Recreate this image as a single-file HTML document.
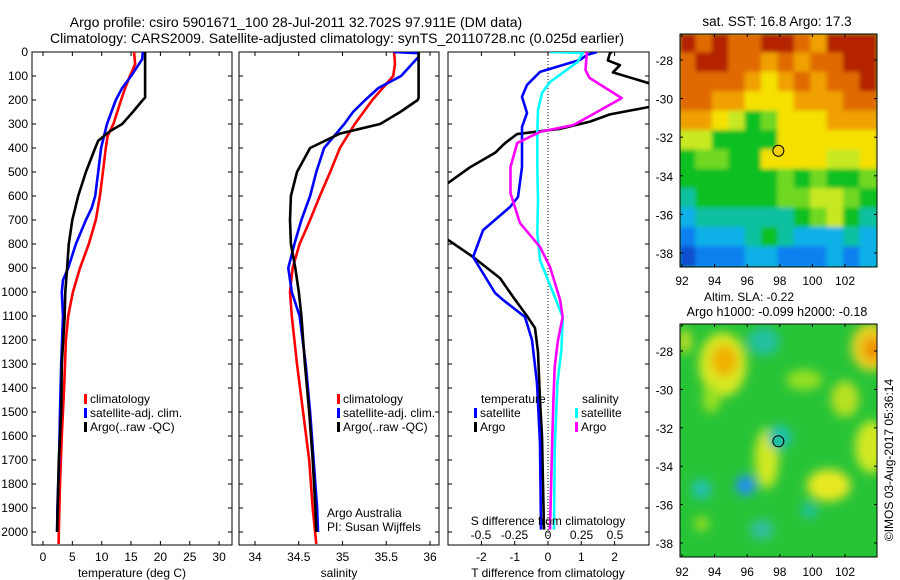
<!DOCTYPE html>
<html><head><meta charset="utf-8"><style>
html,body{margin:0;padding:0;background:#fff;}
svg{display:block;font-family:"Liberation Sans",sans-serif;font-size:12px;}
</style></head><body>
<svg id="c" width="900" height="580" viewBox="0 0 900 580">
<text x="296" y="27" text-anchor="middle" font-size="14">Argo profile: csiro 5901671_100 28-Jul-2011 32.702S 97.911E (DM data)</text>
<text x="337" y="43" text-anchor="middle" font-size="14">Climatology: CARS2009. Satellite-adjusted climatology: synTS_20110728.nc (0.025d earlier)</text>
</svg>
<script>
// ---- data ----
const tempDepth=[0,50,100,150,200,300,350,400,500,600,700,800,900,1000,1100,1200,1400,1600,1800,2000,2050];
const tempClim=[15.5,15.7,14.8,14.0,13.3,12.0,11.0,10.7,10.2,9.7,9.0,7.8,6.3,5.1,4.3,3.9,3.6,3.2,2.9,2.7,2.65];
const tempSatDepth=[0,30,100,150,200,300,350,400,500,600,650,700,800,900,950,1000,1100,1300,1500,1700,1900,2000];
const tempSat=[17.0,16.9,15.0,13.5,12.4,10.9,10.4,9.9,9.4,8.9,8.3,7.3,5.6,4.3,3.4,3.2,3.4,3.1,2.9,2.75,2.45,2.4];
const tempArgoDepth=[0,190,200,250,300,330,370,400,500,600,700,800,900,1000,1100,1300,1500,1700,2000];
const tempArgo=[17.4,17.4,17.0,15.3,13.5,11.4,9.4,8.9,7.3,6.0,5.0,4.4,4.1,3.8,3.7,3.2,3.1,2.7,2.4];

const salDepth=[0,50,100,150,200,300,400,500,600,700,800,900,1000,1100,1300,1500,1700,1900,2050];
const salClim=[35.59,35.6,35.58,35.46,35.34,35.14,34.97,34.86,34.74,34.63,34.51,34.43,34.40,34.42,34.48,34.55,34.62,34.66,34.70];
const salSatDepth=[0,5,20,100,150,200,250,300,400,500,600,700,800,900,1000,1100,1300,1500,1700,1900,2000];
const salSat=[35.58,35.87,35.87,35.67,35.41,35.26,35.12,35.02,34.79,34.70,34.63,34.53,34.45,34.38,34.42,34.51,34.58,34.63,34.67,34.71,34.72];
const salArgoDepth=[0,190,200,250,300,320,340,400,500,600,700,800,900,1000,1100,1300,1500,1700,1900,2000];
const salArgo=[35.87,35.87,35.86,35.66,35.43,35.20,34.97,34.63,34.48,34.41,34.40,34.41,34.46,34.50,34.53,34.57,34.62,34.66,34.69,34.70];

const dTArgoDepth=[0,5,35,55,85,130,180,229,260,290,320,342,380,420,480,546,650,783,854,942,1020,1100,1150,1250,1450,1600,1800,1990];
const dTArgo=[1.92,1.86,1.80,2.16,1.95,3.03,4.5,3.03,1.86,1.26,0.36,-0.93,-1.29,-1.59,-2.34,-3.0,-4.0,-3.0,-2.25,-1.44,-1.05,-0.63,-0.39,-0.30,-0.24,-0.18,-0.15,-0.12];
const dTSatDepth=[0,12,33,83,137,187,254,312,479,604,646,742,854,1004,1033,1104,1200,1380,1630,1990];
const dTSat=[1.47,1.17,0.96,-0.24,-0.63,-0.78,-0.63,-0.78,-0.78,-0.90,-1.14,-1.95,-2.25,-1.59,-1.35,-0.69,-0.48,-0.33,-0.24,-0.21];
const dSSatDepth=[0,4,42,125,171,242,337,479,617,754,867,950,1104,1242,1380,1658,1990];
const dSSat=[0.015,0.26,0.22,0.015,-0.045,-0.075,-0.08,-0.08,-0.075,-0.08,-0.06,0.0,0.11,0.10,0.07,0.05,0.045];
const dSArgoDepth=[0,75,108,192,242,283,304,333,379,479,588,712,812,896,1033,1104,1200,1312,1450,1658,1990];
const dSArgo=[0.29,0.28,0.31,0.55,0.39,0.26,0.19,-0.06,-0.23,-0.28,-0.28,-0.21,-0.06,0.015,0.09,0.11,0.075,0.05,0.04,0.03,0.015];

const depthTicks=[0,100,200,300,400,500,600,700,800,900,1000,1100,1200,1300,1400,1500,1600,1700,1800,1900,2000];
const tempTicks=[0,5,10,15,20,25,30];
const salTicks=[34,34.5,35,35.5,36];
const salTickLabels=["34","34.5","35","35.5","36"];
const dTTicks=[-2,-1,0,1,2];
const dSTicks=[-0.5,-0.25,0,0.25,0.5];
const dSTickLabels=["-0.5","-0.25","0","0.25","0.5"];
const lonTicks=[92,94,96,98,100,102];
const latTicks=[-28,-30,-32,-34,-36,-38];

// ---- scales ----
const yD=d=>52+d*0.24;
const xT=t=>43+t*5.87;
const xS=s=>255+(s-34)*87.5;
const xDT=v=>548+v*33.3;
const xDS=v=>548+v*134;
const lonX=l=>682+(l-92)*16.3;
const lat1Y=l=>60+(-28-l)*19.3;
const lat2Y=l=>351+(-28-l)*19.2;

const svg=document.getElementById('c');
const NS='http://www.w3.org/2000/svg';
function mk(tag,attrs,parent){const e=document.createElementNS(NS,tag);for(const k in attrs)e.setAttribute(k,attrs[k]);(parent||svg).appendChild(e);return e;}
function txt(x,y,s,anchor,parent){const e=mk('text',{x:x,y:y,'text-anchor':anchor||'start'},parent);e.textContent=s;return e;}

const defs=mk('defs',{});
[[32,52,200,493,'cp1'],[239,52,200,493,'cp2'],[448,52,201,493,'cp3'],[680,34,197,233,'cm1'],[680,324,197,233,'cm2']].forEach(a=>{
  const cp=mk('clipPath',{id:a[4]},defs);mk('rect',{x:a[0],y:a[1],width:a[2],height:a[3]},cp);
});
const bl=mk('filter',{id:'blur',x:'-10%',y:'-10%',width:'120%',height:'120%'},defs);
mk('feGaussianBlur',{stdDeviation:'2'},bl);
const bl2=mk('filter',{id:'blur2',x:'-50%',y:'-50%',width:'200%',height:'200%'},defs);
mk('feGaussianBlur',{stdDeviation:'5'},bl2);

function panelFrame(x0,w,name){
  const r=mk('rect',{x:x0,y:52,width:w,height:493,fill:'none',stroke:'#000','stroke-width':1});
  
  
  depthTicks.forEach(d=>{
    mk('line',{x1:x0,x2:x0+4,y1:yD(d),y2:yD(d),stroke:'#000'});
    mk('line',{x1:x0+w-4,x2:x0+w,y1:yD(d),y2:yD(d),stroke:'#000'});
  });
}
function xTicks(vals,sc){vals.forEach(v=>{const x=sc(v);mk('line',{x1:x,x2:x,y1:52,y2:56,stroke:'#000'});mk('line',{x1:x,x2:x,y1:541,y2:545,stroke:'#000'});});}
function series(depths,vals,xs,color,clip,name){
  let p='';depths.forEach((d,i)=>{p+=(i?'L':'M')+xs(vals[i]).toFixed(1)+' '+yD(d).toFixed(1);});
  const e=mk('path',{d:p,fill:'none',stroke:color,'stroke-width':2.6,'stroke-linejoin':'round','clip-path':'url(#'+clip+')'});
  
  
}
function legend(x,y,color,label,name){
  mk('rect',{x:x,y:y-9,width:3,height:10,fill:color});
  const t=txt(x+6,y,label);
  
  
}

// Panel 1
panelFrame(32,200,'temperature-panel');
xTicks(tempTicks,xT);
depthTicks.forEach(d=>{const t=txt(28,yD(d)+4,String(d),'end');});
tempTicks.forEach(v=>{const t=txt(xT(v),561,String(v),'middle');});
{const t=txt(132,577,'temperature (deg C)','middle');}
series(tempDepth,tempClim,xT,'#f00','cp1','temp-climatology-line');
series(tempSatDepth,tempSat,xT,'#00f','cp1','temp-satellite-line');
series(tempArgoDepth,tempArgo,xT,'#000','cp1','temp-argo-line');
legend(84,403,'#f00','climatology','legend-climatology');
legend(84,417,'#00f','satellite-adj. clim.','legend-satellite');
legend(84,431,'#000','Argo(..raw -QC)','legend-argo');

// Panel 2
panelFrame(239,200,'salinity-panel');
xTicks(salTicks,xS);
salTicks.forEach((v,i)=>{const t=txt(xS(v),561,salTickLabels[i],'middle');});
{const t=txt(339,577,'salinity','middle');}
series(salDepth,salClim,xS,'#f00','cp2','sal-climatology-line');
series(salSatDepth,salSat,xS,'#00f','cp2','sal-satellite-line');
series(salArgoDepth,salArgo,xS,'#000','cp2','sal-argo-line');
legend(337,403,'#f00','climatology','legend-climatology-2');
legend(337,417,'#00f','satellite-adj. clim.','legend-satellite-2');
legend(337,431,'#000','Argo(..raw -QC)','legend-argo-2');
{const t=txt(327,517,'Argo Australia');}
{const t=txt(327,531,'PI: Susan Wijffels');}

// Panel 3
panelFrame(448,201,'difference-panel');
xTicks(dTTicks,xDT);
mk('line',{x1:548,x2:548,y1:52,y2:545,stroke:'#000','stroke-dasharray':'1,2'});
dTTicks.forEach(v=>{const t=txt(xDT(v),561,String(v),'middle');});
dSTicks.forEach((v,i)=>{const t=txt(xDS(v),539,dSTickLabels[i],'middle');});
{const t=txt(548,577,'T difference from climatology','middle');}
series(dTArgoDepth,dTArgo,xDT,'#000','cp3','dT-argo-line');
series(dTSatDepth,dTSat,xDT,'#00f','cp3','dT-satellite-line');
series(dSSatDepth,dSSat,xDS,'#0ff','cp3','dS-satellite-line');
series(dSArgoDepth,dSArgo,xDS,'#f0f','cp3','dS-argo-line');
{const t=txt(548,525,'S difference from climatology','middle');}
{const t=txt(481,403,'temperature');}
{const t=txt(582,403,'salinity');}
legend(474,417,'#00f','satellite','legend-t-satellite');
legend(474,431,'#000','Argo','legend-t-argo');
legend(575,417,'#0ff','satellite','legend-s-satellite');
legend(575,431,'#f0f','Argo','legend-s-argo');

// Map 1: SST
const pal={R:'#b42200',O:'#e06a00',o:'#f0a000',Y:'#f5e000',y:'#c8e820',g:'#70d820',G:'#10c020',T:'#10c0a0',C:'#10b0e8',B:'#1080f0',D:'#1050d0'};
const sstGrid=["ROROORROoRRR","ORROOoOoOORR","OOOOoYoOoOOR","OOooYYYoooOO","ooYyGgYYYooo","yyGGGGYYYYYY","GggGGYYYYyyY","GGGGGGgGgGGg","TGGGGGggyygG","CTTTTTTGgyGT","BCCCTGTCCCTC","DBBBCCBBBCBC"];
const m1=mk('g',{'clip-path':'url(#cm1)'});


const m1b=mk('g',{filter:'url(#blur)'},m1);
mk('rect',{x:670,y:24,width:217,height:253,fill:'#10c020'},m1b);
sstGrid.forEach((row,r)=>{[...row].forEach((ch,c)=>{mk('rect',{x:680+c*16.4-1,y:34+r*19.4-1,width:18.5,height:21.5,fill:pal[ch]},m1b);});});
mk('rect',{x:680,y:34,width:197,height:233,fill:'none',stroke:'#000'});
mk('circle',{cx:lonX(97.911),cy:lat1Y(-32.702),r:5.5,fill:'#f0d000',stroke:'#000'});
// Map 2: SLA
const m2=mk('g',{'clip-path':'url(#cm2)'});


mk('rect',{x:680,y:324,width:197,height:233,fill:'#28c438'},m2);
const m2b=mk('g',{filter:'url(#blur2)'},m2);
[[94.5,-28.7,24,32,'#d8e820'],[94.6,-28.5,13,16,'#f0b000'],[103.6,-27.8,20,24,'#e8d020'],[103.7,-27.9,10,12,'#f09000'],[101,-35,22,16,'#e8e820'],[97.2,-33.6,12,30,'#d0e820'],[102,-30.5,14,18,'#b8e020'],[103.6,-33,16,26,'#d0e820'],[99.5,-29.5,18,10,'#98e020'],[93.8,-30.5,9,14,'#98e020'],[97,-27.5,16,14,'#20c0a0'],[98,-32.5,12,12,'#20c0b0'],[95.9,-35,10,10,'#2090f0'],[93.2,-35.2,10,10,'#20c0b0'],[99.8,-36.3,8,8,'#20c0a0'],[96.9,-37.3,12,10,'#30c0a0'],[92.2,-27.5,6,12,'#d0e020'],[93.2,-37,7,7,'#a0e020']].forEach(b=>{
  mk('ellipse',{cx:lonX(b[0]),cy:lat2Y(b[1]),rx:b[2],ry:b[3],fill:b[4]},m2b);
});
mk('rect',{x:680,y:324,width:197,height:233,fill:'none',stroke:'#000'});
mk('circle',{cx:lonX(97.911),cy:lat2Y(-32.702),r:5.5,fill:'#20c0a0',stroke:'#000'});

function mapAxes(y0,y1,latY,labY){
  lonTicks.forEach(l=>{const x=lonX(l);mk('line',{x1:x,x2:x,y1:y0,y2:y0+3,stroke:'#000'});mk('line',{x1:x,x2:x,y1:y1-3,y2:y1,stroke:'#000'});
    const t=txt(x,labY,String(l),'middle');});
  latTicks.forEach(l=>{const y=latY(l);mk('line',{x1:680,x2:683,y1:y,y2:y,stroke:'#000'});mk('line',{x1:874,x2:877,y1:y,y2:y,stroke:'#000'});
    const t=txt(673,y+5,String(l),'end');});
}
mapAxes(34,267,lat1Y,285);
mapAxes(324,557,lat2Y,576);
{const t=txt(777,26,'sat. SST: 16.8 Argo: 17.3','middle');t.setAttribute('font-size','13.5');}
{const t=txt(749,301,'Altim. SLA: -0.22','middle');}
{const t=txt(777,316,'Argo h1000: -0.099 h2000: -0.18','middle');t.setAttribute('font-size','12.5');}
{const t=txt(0,0,'©IMOS 03-Aug-2017 05:36:14','middle');t.setAttribute('transform','translate(893,460) rotate(-90)');}
</script>
</body></html>
